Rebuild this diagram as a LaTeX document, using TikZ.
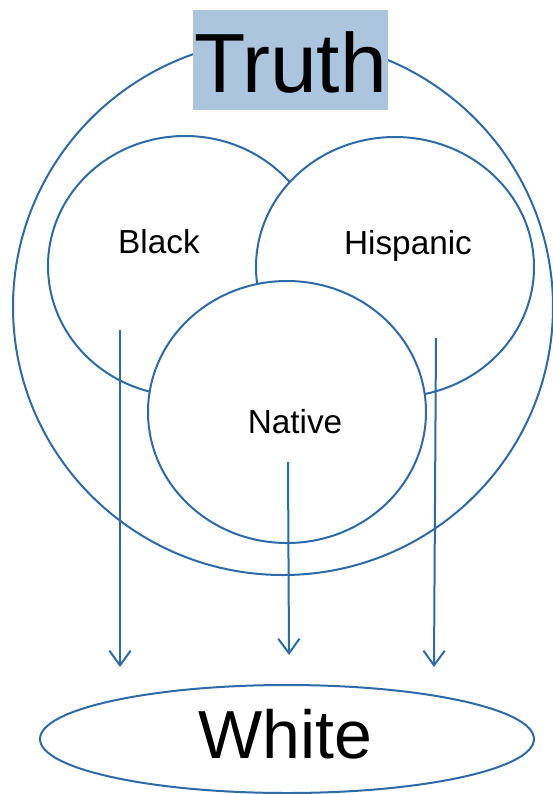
\documentclass[tikz,border=0pt]{standalone}
\usepackage{fontspec}
\setmainfont{Liberation Sans}
\usetikzlibrary{shapes.geometric,arrows.meta}
\tikzset{
  ring/.style={ellipse, draw={rgb, 255:red, 45; green, 106; blue, 166 }, fill=white, line width=1.5, inner sep=0},
  flow/.style={draw={rgb, 255:red, 45; green, 106; blue, 166 }, line width=1.5, -{Straight Barb[length=11pt,width=16pt]}},
  groupname/.style={anchor=base, font=\fontsize{25}{30}\selectfont}
}
\begin{document}
\begin{tikzpicture}[x=0.75pt,y=0.75pt,yscale=-1,xscale=1]
\useasboundingbox (0,0) rectangle (553,794);

%Shape: Ellipse [id:truth]
\node [ring, minimum width=405pt, minimum height=402pt] (truth) at (283,307) {};
%Shape: Ellipse [id:black]
\node [ring, minimum width=205.5pt, minimum height=195pt] (black) at (185,266) {};
%Shape: Ellipse [id:hispanic]
\node [ring, minimum width=208.5pt, minimum height=195pt] (hispanic) at (395,267) {};
%Shape: Ellipse [id:native]
\node [ring, minimum width=208.5pt, minimum height=196.5pt] (native) at (287,412) {};
%Shape: Ellipse [id:white]
\node [ring, minimum width=370.5pt, minimum height=81pt] (white) at (287,739) {};

% Text Node
\node [anchor=base, fill={rgb, 255:red, 172; green, 197; blue, 222 }, inner sep=0, minimum width=146.25pt, text height=61.5pt, text depth=13.5pt, font=\fontsize{63}{70}\selectfont] (truthlbl) at (290.5,92) {Truth};
% Text Node
\node [groupname] (blacklbl) at (159,253) {Black};
% Text Node
\node [groupname] (hispaniclbl) at (408,254) {Hispanic};
% Text Node
\node [groupname] (nativelbl) at (295,433) {Native};
% Text Node
\node [anchor=base, font=\fontsize{51}{60}\selectfont] (whitelbl) at (285,758) {White};

\coordinate (bfrom) at (120,330);
\coordinate (bto) at (120,667);
\coordinate (nfrom) at (288,462);
\coordinate (nto) at (289,655);
\coordinate (hfrom) at (436,338);
\coordinate (hto) at (434,667);

%Straight Lines [id:flows]
\draw [flow] (bfrom) -- (bto);
\draw [flow] (nfrom) -- (nto);
\draw [flow] (hfrom) -- (hto);

\end{tikzpicture}
\end{document}
